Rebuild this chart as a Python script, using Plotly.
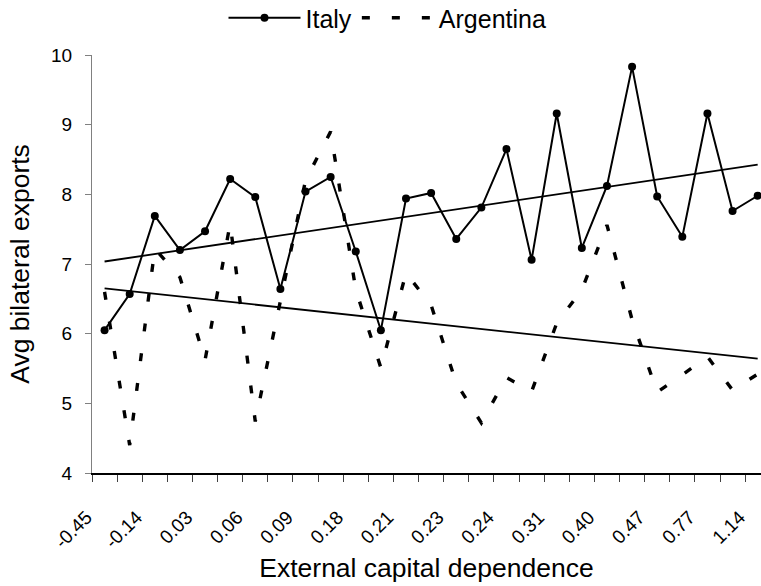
import numpy as np
import plotly.graph_objects as go

# ---- data ----
tick_labels = ["-0.45", "-0.14", "0.03", "0.06", "0.09", "0.18", "0.21",
               "0.23", "0.24", "0.31", "0.40", "0.47", "0.77", "1.14"]
italy = [6.05, 6.57, 7.69, 7.20, 7.47, 8.22, 7.96, 6.64, 8.04, 8.25, 7.18, 6.05,
         7.94, 8.02, 7.36, 7.81, 8.65, 7.06, 9.16, 7.23, 8.12, 9.83, 7.97, 7.39,
         9.16, 7.76, 7.98]
argentina = [6.60, 4.40, 7.22, 6.81, 5.62, 7.58, 4.74, 6.49, 8.20, 8.90, 6.63, 5.51,
             6.87, 6.41, 5.29, 4.72, 5.37, 5.17, 6.15, 6.63, 7.56, 6.20, 5.16, 5.41,
             5.67, 5.19, 5.42]

n = len(italy)
x = np.arange(n)
tick_pos = x[::2]

# linear trend lines (least squares), as Excel draws them
def trend(values):
    slope, intercept = np.polyfit(x, values, 1)
    tx = np.array([x[0], x[-1]])
    return tx, slope * tx + intercept

FONT = "Liberation Sans, Arial, sans-serif"

fig = go.Figure()
fig.add_trace(go.Scatter(
    x=x, y=italy, name="Italy", mode="lines+markers",
    line=dict(color="black", width=2),
    marker=dict(symbol="circle", size=8, color="black"),
))
fig.add_trace(go.Scatter(
    x=x, y=argentina, name="Argentina", mode="lines",
    line=dict(color="black", width=3.4, dash="8px,22px"),
))
for vals in (italy, argentina):
    tx, ty = trend(vals)
    fig.add_trace(go.Scatter(
        x=tx, y=ty, mode="lines", showlegend=False, hoverinfo="skip",
        line=dict(color="black", width=1.8),
    ))

fig.update_layout(
    width=761, height=586,
    margin=dict(l=92, r=0, t=55, b=113, autoexpand=False),
    paper_bgcolor="white", plot_bgcolor="white",
    font=dict(family=FONT, color="black", size=19),
    showlegend=True,
    legend=dict(
        orientation="h", xref="container", yref="container",
        x=0.5 + 7 / 761, xanchor="center", y=1 - 18 / 586, yanchor="middle",
        font=dict(size=25, family=FONT), itemwidth=72,
        bgcolor="rgba(0,0,0,0)", tracegroupgap=0,
    ),
    xaxis=dict(
        range=[-0.5, 669 / 25.12 - 0.5], automargin=False,
        tickmode="array", tickvals=tick_pos, ticktext=tick_labels,
        ticks="", tickangle=-45, tickfont=dict(size=19),
        ticklabelstandoff=24, ticklabelshift=-18,
        showline=True, linecolor="black", linewidth=1.5,
        showgrid=False, zeroline=False,
        minor=dict(tickmode="array", tickvals=list(np.arange(-0.5, n, 1.0)),
                   ticks="outside", ticklen=7, tickwidth=1, tickcolor="#404040"),
        title=dict(text="External capital dependence", font=dict(size=26.5), standoff=7),
    ),
    yaxis=dict(
        range=[4, 10], tickmode="linear", tick0=4, dtick=1, automargin=False,
        ticks="outside", ticklen=6, tickwidth=1, tickcolor="#808080",
        showline=True, linecolor="#808080", linewidth=1,
        showgrid=False, zeroline=False, tickfont=dict(size=19),
        ticklabelstandoff=9,
        title=dict(text="Avg bilateral exports", font=dict(size=26.5), standoff=13),
    ),
)

fig.write_html(
    "out.html",
    config={"displayModeBar": False},
    post_script="document.body.style.margin='0';document.body.style.overflow='hidden';",
)
